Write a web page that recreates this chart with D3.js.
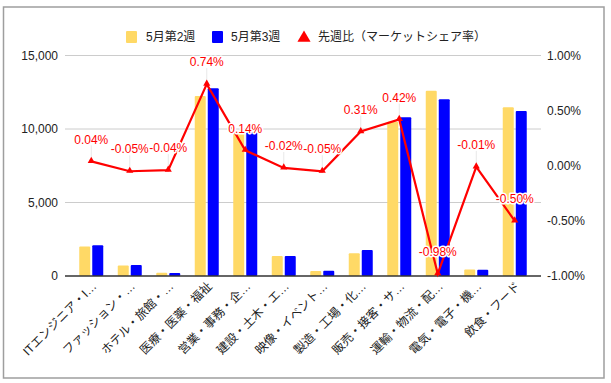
<!DOCTYPE html>
<html><head><meta charset="utf-8">
<script src="https://cdn.jsdelivr.net/npm/d3@7/dist/d3.min.js"></script>
<style>
body{margin:0;background:#fff;}
svg{display:block;font-family:"Liberation Sans",Arial,"Noto Sans CJK JP",sans-serif;}
</style></head>
<body><svg id="c" width="611" height="383"></svg>
<script>
const categories = ["ITエンジニア・I…","ファッション・…","ホテル・旅館・…","医療・医薬・福祉","営業・事務・企…","建設・土木・エ…","映像・イベント…","製造・工場・化…","販売・接客・サ…","運輸・物流・配…","電気・電子・機…","飲食・フード"];
const week2 = [2000, 720, 220, 12250, 9700, 1360, 340, 1540, 10500, 12600, 450, 11480];
const week3 = [2100, 740, 200, 12780, 9780, 1360, 360, 1770, 10800, 12020, 430, 11220];
const shareChange = [0.04, -0.05, -0.04, 0.74, 0.14, -0.02, -0.05, 0.31, 0.42, -0.98, -0.01, -0.50];
const leftTicks = [0, 5000, 10000, 15000];
const rightTicks = [-1, -0.5, 0, 0.5, 1];
const seriesNames = ["5月第2週", "5月第3週", "先週比（マーケットシェア率）"];
const colors = ["#ffd966", "#0000ff", "#ff0000"];

const loc = d3.formatLocale({decimal:".", thousands:",", grouping:[3], currency:["",""], minus:"-"});
const pct = v => loc.format(".2f")(v) + "%";
const fmt = loc.format(",");

const svg = d3.select("#c");
svg.append("rect").attr("x",3.5).attr("y",7).attr("width",600.5).attr("height",371)
  .attr("fill","#fff").attr("stroke","#9e9e9e").attr("stroke-width",1.5);

const gx0 = 65, gx1 = 541;
const x = d3.scaleBand().domain(categories).range([72, 534]);
const yL = d3.scaleLinear().domain([0, 15000]).range([276, 55.5]);
const yR = d3.scaleLinear().domain([-1, 1]).range([276, 55.5]);

// gridlines
svg.append("g").selectAll("line").data(leftTicks.filter(d=>d>0)).join("line")
  .attr("x1",gx0).attr("x2",gx1).attr("y1",d=>yL(d)).attr("y2",d=>yL(d))
  .attr("stroke","#cccccc").attr("stroke-width",1);

// left axis labels
svg.append("g").selectAll("text").data(leftTicks).join("text")
  .attr("x",58).attr("y",d=>yL(d)).attr("dy","0.35em").attr("text-anchor","end")
  .attr("font-size",12).attr("fill","#222").text(d=>fmt(d));
// right axis labels
svg.append("g").selectAll("text").data(rightTicks).join("text")
  .attr("x",547).attr("y",d=>yR(d)).attr("dy","0.35em").attr("text-anchor","start")
  .attr("font-size",12).attr("fill","#222").text(d=>pct(d));

// bars
const bw = 11, gap = 2;
const bars = svg.append("g");
bars.selectAll("rect.a").data(week2).join("rect").attr("class","a")
  .attr("x",(d,i)=>x(categories[i])+x.bandwidth()/2 - gap/2 - bw)
  .attr("y",d=>yL(d)).attr("width",bw).attr("height",d=>yL(0)-yL(d))
  .attr("fill",colors[0]).attr("rx",1);
bars.selectAll("rect.b").data(week3).join("rect").attr("class","b")
  .attr("x",(d,i)=>x(categories[i])+x.bandwidth()/2 + gap/2)
  .attr("y",d=>yL(d)).attr("width",bw).attr("height",d=>yL(0)-yL(d))
  .attr("fill",colors[1]).attr("rx",1);

// baseline
svg.append("line").attr("x1",gx0).attr("x2",gx1).attr("y1",yL(0)).attr("y2",yL(0))
  .attr("stroke","#333").attr("stroke-width",1.3);

// annotation leader lines
const cx = i => x(categories[i]) + x.bandwidth()/2;
svg.append("g").selectAll("line").data(shareChange).join("line")
  .attr("x1",(d,i)=>cx(i)).attr("x2",(d,i)=>cx(i))
  .attr("y1",d=>yR(d)).attr("y2",d=>yR(d)-16)
  .attr("stroke","#e8e8e8").attr("stroke-width",1);

// line
const line = d3.line().x((d,i)=>cx(i)).y(d=>yR(d));
svg.append("path").datum(shareChange).attr("d",line)
  .attr("fill","none").attr("stroke",colors[2]).attr("stroke-width",2.2);
const tri = d3.symbol().type(d3.symbolTriangle).size(22);
svg.append("g").selectAll("path").data(shareChange).join("path")
  .attr("d",tri).attr("transform",(d,i)=>`translate(${cx(i)},${yR(d)-0.5})`)
  .attr("fill",colors[2]);

// labels
svg.append("g").selectAll("text").data(shareChange).join("text")
  .attr("x",(d,i)=>cx(i)).attr("y",d=>yR(d)-22).attr("dy","0.35em")
  .attr("text-anchor","middle").attr("font-size",12).attr("fill","#ff0000")
  .attr("stroke","#fff").attr("stroke-width",3).attr("paint-order","stroke")
  .attr("stroke-linejoin","round")
  .text(d=>pct(d));

// x labels
svg.append("g").selectAll("text").data(categories).join("text")
  .attr("transform",(d,i)=>`translate(${cx(i)+6},${287}) rotate(-45)`)
  .attr("text-anchor","end").attr("font-size",12).attr("fill","#222")
  .text(d=>d);

// legend
const lg = svg.append("g");
const legendItems = [
  {name:seriesNames[0], color:colors[0], sx:126, tx:146, shape:"rect"},
  {name:seriesNames[1], color:colors[1], sx:212, tx:231, shape:"rect"},
  {name:seriesNames[2], color:colors[2], sx:298, tx:318, shape:"tri"}
];
legendItems.forEach(it=>{
  if(it.shape==="rect"){
    lg.append("rect").attr("x",it.sx).attr("y",31).attr("width",11).attr("height",12).attr("fill",it.color).attr("rx",1);
  } else {
    lg.append("path").attr("d",d3.symbol().type(d3.symbolTriangle).size(75))
      .attr("transform",`translate(${it.sx+6},38)`).attr("fill",it.color);
  }
  lg.append("text").attr("x",it.tx).attr("y",37).attr("dy","0.35em")
    .attr("font-size",12).attr("fill","#222").text(it.name);
});
</script></body></html>
